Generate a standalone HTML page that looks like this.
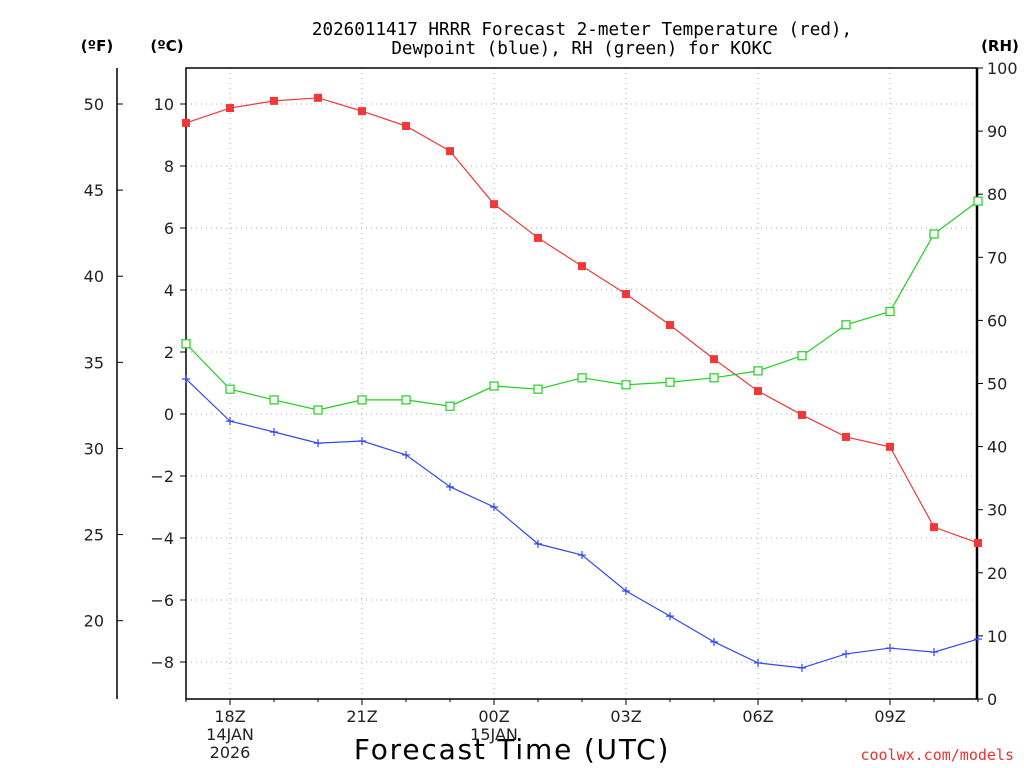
<!DOCTYPE html>
<html><head><meta charset="utf-8"><style>
html,body{margin:0;padding:0;background:#fff;width:1024px;height:768px;overflow:hidden}
svg{display:block;font-family:"DejaVu Sans","Liberation Sans",sans-serif}
</style></head><body>
<svg id="c" width="1024" height="768">
<text x="582" y="35" font-size="17.6" text-anchor="middle" font-family="DejaVu Sans Mono,Liberation Mono,monospace">2026011417 HRRR Forecast 2-meter Temperature (red),</text>
<text x="582" y="54" font-size="17.6" text-anchor="middle" font-family="DejaVu Sans Mono,Liberation Mono,monospace">Dewpoint (blue), RH (green) for KOKC</text>
<text x="97" y="51" font-size="15" font-weight="bold" text-anchor="middle">(ºF)</text>
<text x="167" y="51" font-size="15" font-weight="bold" text-anchor="middle">(ºC)</text>
<text x="1000" y="51" font-size="15" font-weight="bold" text-anchor="middle">(RH)</text>
<text x="512" y="759" font-size="28" letter-spacing="1.8" text-anchor="middle">Forecast Time (UTC)</text>
<text x="1014" y="760" font-size="15" fill="#f03030" text-anchor="end" font-family="DejaVu Sans Mono,Liberation Mono,monospace">coolwx.com/models</text>
<g id="grid"></g><g id="axes"></g><g id="series"></g>
</svg>
<script>
const hours=[17,18,19,20,21,22,23,0,1,2,3,4,5,6,7,8,9,10,11];
const tempC=[9.39,9.87,10.1,10.2,9.77,9.29,8.48,6.77,5.68,4.77,3.87,2.87,1.77,0.74,-0.03,-0.74,-1.06,-3.65,-4.16];
const dewC=[1.13,-0.23,-0.58,-0.94,-0.87,-1.32,-2.35,-3.0,-4.19,-4.55,-5.71,-6.52,-7.35,-8.03,-8.19,-7.74,-7.55,-7.68,-7.26];
const rh=[56.3,49.1,47.4,45.8,47.4,47.4,46.4,49.6,49.1,50.9,49.8,50.2,50.9,52,54.4,59.3,61.4,73.7,78.9];
const cTicks=[-8,-6,-4,-2,0,2,4,6,8,10];
const fTicks=[20,25,30,35,40,45,50];
const rhTicks=[0,10,20,30,40,50,60,70,80,90,100];
const xLabels=[["18Z","14JAN","2026"],["21Z"],["00Z","15JAN"],["03Z"],["06Z"],["09Z"]];
const xLabelIdx=[1,4,7,10,13,16];
const L=186,R=977,T=68,B=699;
const NS="http://www.w3.org/2000/svg";
const xs=i=>L+i*44;
const yc=c=>414-c*31;
const yf=f=>yc((f-32)/1.8);
const yr=r=>B-r*(B-T)/100;
function mk(p,tag,a,txt){const e=document.createElementNS(NS,tag);for(const k in a)e.setAttribute(k,a[k]);if(txt!=null)e.textContent=txt;document.getElementById(p).appendChild(e);return e;}
cTicks.forEach(c=>{const e=mk('grid','line',{x1:L,x2:R,y1:yc(c),y2:yc(c),stroke:'#aaa','stroke-dasharray':'1,4'});

});
xLabelIdx.forEach(i=>{const e=mk('grid','line',{x1:xs(i),x2:xs(i),y1:T,y2:B,stroke:'#aaa','stroke-dasharray':'1,4'});

});
const fr=mk('axes','rect',{x:L,y:T,width:R-L,height:B-T,fill:'none',stroke:'#000','stroke-width':1.5});


mk('axes','line',{x1:R,x2:R,y1:T,y2:B,stroke:'#000','stroke-width':2.5});
const fa=mk('axes','line',{x1:117,x2:117,y1:T,y2:B,stroke:'#000','stroke-width':1.5});


cTicks.forEach(c=>{mk('axes','line',{x1:L-6,x2:L,y1:yc(c),y2:yc(c),stroke:'#000'});
const t=mk('axes','text',{x:174,y:yc(c)+6,'font-size':16,'text-anchor':'end',fill:'#222'},c<0?'\u2212'+(-c):String(c));

});
fTicks.forEach(f=>{mk('axes','line',{x1:117,x2:123,y1:yf(f),y2:yf(f),stroke:'#000'});
const t=mk('axes','text',{x:104,y:yf(f)+6,'font-size':16,'text-anchor':'end',fill:'#222'},String(f));

});
rhTicks.forEach(r=>{mk('axes','line',{x1:R,x2:R+6,y1:yr(r),y2:yr(r),stroke:'#000'});
const t=mk('axes','text',{x:987,y:yr(r)+6,'font-size':16,fill:'#222'},String(r));

});
hours.forEach((h,i)=>{mk('axes','line',{x1:xs(i),x2:xs(i),y1:B,y2:B+(i%3==1?6:3),stroke:'#000'});});
xLabelIdx.forEach((i,k)=>{xLabels[k].forEach((s,j)=>{const t=mk('axes','text',{x:xs(i),y:722+j*18,'font-size':16,'text-anchor':'middle',fill:'#222'},s);

});});
function series(vals,yfn,color,marker,name){
const pts=vals.map((v,i)=>xs(i)+','+yfn(v)).join(' ');
const pl=mk('series','polyline',{points:pts,fill:'none',stroke:color,'stroke-width':1.2});


vals.forEach((v,i)=>{const x=xs(i),y=yfn(v);let m;
if(marker==='fill')m=mk('series','rect',{x:x-4,y:y-4,width:8,height:8,fill:color});
else if(marker==='open')m=mk('series','rect',{x:x-4,y:y-4,width:8,height:8,fill:'#fff',stroke:color,'stroke-width':1.2});
else m=mk('series','path',{d:`M${x-4},${y}H${x+4}M${x},${y-4}V${y+4}`,stroke:color,'stroke-width':1.2});

});}
series(tempC,yc,'#f03838','fill','temperature');
series(dewC,yc,'#3048f0','plus','dewpoint');
series(rh,yr,'#20d020','open','rh');
</script>
</body></html>
